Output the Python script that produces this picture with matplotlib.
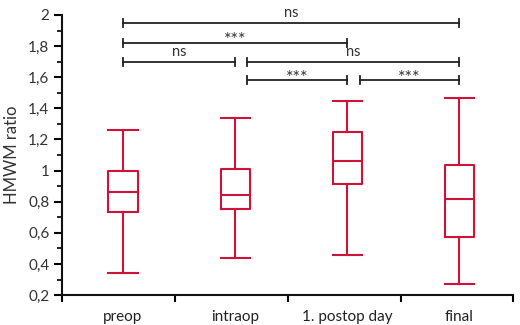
import numpy as np
import matplotlib
matplotlib.use('Agg')
import matplotlib.pyplot as plt
from matplotlib.ticker import FuncFormatter, MultipleLocator, FixedLocator

# data
groups = ['preop', 'intraop', '1. postop day', 'final']
whis_lo = [0.34, 0.44, 0.46, 0.27]
q1 = [0.733, 0.75, 0.915, 0.573]
median = [0.86, 0.84, 1.06, 0.82]
q3 = [1.0, 1.01, 1.245, 1.035]
whis_hi = [1.26, 1.335, 1.45, 1.465]

# significance brackets: (from, to, level, label)
brk_from = [1, 1, 1, 2, 2, 3]
brk_to = [4, 3, 2, 4, 3, 4]
brk_level = [1.95, 1.82, 1.70, 1.70, 1.58, 1.58]
brk_label = ['ns', '***', 'ns', 'ns', '***', '***']
brk_shift = [0, 0, 0, 1, 1, 1]   # start moved right so brackets don't touch

red = '#cf1237'
plt.rcParams['font.family'] = ['Lato', 'DejaVu Sans']

fig = plt.figure(figsize=(5.2, 3.25), dpi=100)
ax = fig.add_axes([0.119, 0.092, 0.868, 0.862])

stats = []
for i in range(len(groups)):
    stats.append({'whislo': whis_lo[i], 'q1': q1[i], 'med': median[i],
                  'q3': q3[i], 'whishi': whis_hi[i], 'fliers': []})
pos = np.arange(1, len(groups) + 1)
lp = dict(color=red, linewidth=1.5)
ax.bxp(stats, positions=pos, widths=0.26, showfliers=False,
       boxprops=lp, medianprops=lp, whiskerprops=lp,
       capprops=lp, capwidths=0.26)

for a, b, lev, lab, sh in zip(brk_from, brk_to, brk_level, brk_label, brk_shift):
    x0 = a + 0.11 * sh
    ax.plot([x0, b], [lev, lev], color='#222222', lw=1.3)
    ax.plot([x0, x0], [lev - 0.025, lev + 0.025], color='#222222', lw=1.3)
    ax.plot([b, b], [lev - 0.025, lev + 0.025], color='#222222', lw=1.3)
    if lab == 'ns':
        ax.text((x0 + b) / 2, lev + 0.015, lab, ha='center', va='bottom',
                fontsize=10.5, color='#333333')
    else:
        ax.text((x0 + b) / 2, lev - 0.035, lab, ha='center', va='bottom',
                fontsize=13, color='#333333')

ax.set_xlim(0.455, 4.48)
ax.set_ylim(0.2, 2.0)
ax.spines['top'].set_visible(False)
ax.spines['right'].set_visible(False)
for s in ['left', 'bottom']:
    ax.spines[s].set_linewidth(1.5)
    ax.spines[s].set_color('#111111')

ax.set_xticks(pos)
ax.set_xticklabels(groups, fontsize=11)
ax.tick_params(axis='x', which='major', length=0, pad=11)
ax.xaxis.set_minor_locator(FixedLocator([0.455, 1.465, 2.47, 3.475, 4.475]))
ax.tick_params(axis='x', which='minor', length=5, width=1.5, direction='out')

ax.yaxis.set_major_locator(MultipleLocator(0.2))
ax.yaxis.set_minor_locator(MultipleLocator(0.1))
ax.yaxis.set_major_formatter(FuncFormatter(
    lambda v, p: ('%.1f' % v).rstrip('0').rstrip('.').replace('.', ',')))
ax.tick_params(axis='y', which='major', length=6, width=1.5, labelsize=11, pad=3)
ax.tick_params(axis='y', which='minor', length=3.5, width=1.2)
for lbl in ax.get_yticklabels():
    lbl.set_color('#333333')
for lbl in ax.get_xticklabels():
    lbl.set_color('#222222')

ax.set_ylabel('HMWM ratio', fontsize=12, color='#333333', labelpad=6,
              fontstretch='condensed')

fig.savefig('out.png', dpi=100)
